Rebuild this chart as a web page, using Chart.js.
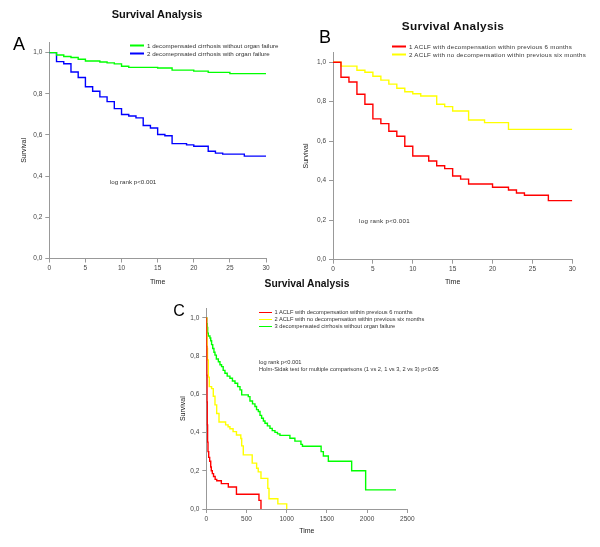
<!DOCTYPE html>
<html lang="en">
<head>
<meta charset="UTF-8">
<title>Survival Analysis</title>
<script src="https://cdn.jsdelivr.net/npm/chart.js"></script>
<style>
  body { margin: 0; background: #fff; font-family: "Liberation Sans", Arial, sans-serif; }
  #wrap { position: relative; width: 600px; height: 547px; overflow: hidden; }
  canvas { position: absolute; }
  .txt { position: absolute; white-space: nowrap; color: #222; }
  .center { transform: translate(-50%, -50%); }
  .title { font-weight: bold; color: #111; }
  .letter { color: #000; }
  .leg { position: absolute; white-space: nowrap; font-size: 6.2px; color: #333; transform: translateY(-50%); }
  .leg i { display: inline-block; width: 14px; height: 1.5px; vertical-align: middle; margin-right: 3px; }
  .note { font-size: 6.2px; color: #333; transform: translateY(-50%); }
  .small { font-size: 5.7px; }
</style>
</head>
<body>
<div id="wrap">
  <canvas id="chartA" width="300" height="292" style="left:0;top:0"></canvas>
  <canvas id="chartB" width="300" height="292" style="left:300px;top:0"></canvas>
  <canvas id="chartC" width="260" height="252" style="left:170px;top:295px"></canvas>

  <div class="txt center title" style="left:157px;top:14px;font-size:11px">Survival Analysis</div>
  <div class="txt center title" style="left:453px;top:26px;font-size:11.8px;letter-spacing:0.3px">Survival Analysis</div>
  <div class="txt center title" style="left:307px;top:283px;font-size:10.3px">Survival Analysis</div>

  <div class="txt center letter" style="left:19px;top:44px;font-size:18px">A</div>
  <div class="txt center letter" style="left:325px;top:37px;font-size:18px">B</div>
  <div class="txt center letter" style="left:179px;top:311px;font-size:16px">C</div>

  <div class="leg" style="left:130px;top:44.5px"><i style="background:#00ff00"></i>1 decompensated cirrhosis without organ failure</div>
  <div class="leg" style="left:130px;top:52.5px"><i style="background:#0000ff"></i>2 decomepnsated cirrhosis with organ failure</div>

  <div class="leg" style="left:392px;top:45.5px;letter-spacing:0.25px"><i style="background:#ff0000"></i>1 ACLF with decompensation within previous 6 months</div>
  <div class="leg" style="left:392px;top:53.5px;letter-spacing:0.25px"><i style="background:#ffff00"></i>2 ACLF with no decompensation within previous six months</div>

  <div class="leg small" style="left:259px;top:312px"><i style="background:#ff0000;width:12.5px"></i>1 ACLF with decompensation within previous 6 months</div>
  <div class="leg small" style="left:259px;top:319px"><i style="background:#ffff00;width:12.5px"></i>2 ACLF with no decompensation within previous six months</div>
  <div class="leg small" style="left:259px;top:326px"><i style="background:#00ff00;width:12.5px"></i>3 decompensated cirrhosis without organ failure</div>

  <div class="txt note" style="left:110px;top:181px">log rank p&lt;0.001</div>
  <div class="txt note" style="left:359px;top:220px;letter-spacing:0.3px">log rank p&lt;0.001</div>
  <div class="txt note small" style="left:259px;top:362px">log rank p&lt;0.001</div>
  <div class="txt note small" style="left:259px;top:369px">Holm-Sidak test for multiple comparisons (1 vs 2, 1 vs 3, 2 vs 3) p&lt;0.05</div>
</div>
<script>
  // panel A: decompensated cirrhosis without / with organ failure
  const aGreenTime = [0, 1, 2, 3, 4, 5, 7, 8, 9, 10, 11, 15, 17, 20, 22, 25, 30];
  const aGreenSurv = [1, 0.988, 0.981, 0.976, 0.968, 0.959, 0.954, 0.95, 0.945, 0.934, 0.928, 0.925, 0.915, 0.91, 0.904, 0.898, 0.898];
  const aBlueTime = [0, 1, 2, 3, 4, 5, 6, 7, 8, 9, 10, 11, 12, 13, 14, 15, 16, 17, 19, 20, 22, 23, 24, 27, 30];
  const aBlueSurv = [1, 0.956, 0.946, 0.906, 0.879, 0.834, 0.812, 0.785, 0.762, 0.728, 0.699, 0.692, 0.683, 0.646, 0.634, 0.602, 0.596, 0.558, 0.552, 0.545, 0.521, 0.512, 0.507, 0.497, 0.497];

  // panel B: ACLF with / without previous decompensation
  const bRedTime = [0, 1, 2, 3, 4, 5, 6, 7, 8, 9, 10, 12, 13, 14, 15, 16, 17, 20, 22, 23, 24, 27, 30];
  const bRedSurv = [1, 0.924, 0.9, 0.838, 0.787, 0.713, 0.689, 0.65, 0.625, 0.574, 0.525, 0.5, 0.476, 0.461, 0.424, 0.408, 0.383, 0.367, 0.353, 0.338, 0.326, 0.299, 0.299];
  const bYellowTime = [0, 1, 3, 4, 5, 6, 7, 8, 9, 10, 11, 13, 14, 15, 17, 19, 22, 30];
  const bYellowSurv = [1, 0.98, 0.959, 0.949, 0.929, 0.909, 0.889, 0.868, 0.85, 0.84, 0.829, 0.787, 0.775, 0.753, 0.707, 0.694, 0.66, 0.66];

  // panel C: all three groups, long follow-up
  const cRedTime = [0, 3, 6, 9, 12, 16, 21, 30, 42, 55, 62, 75, 90, 110, 130, 187, 274, 375, 655, 680];
  const cRedSurv = [1, 0.85, 0.7, 0.56, 0.44, 0.35, 0.3, 0.27, 0.25, 0.22, 0.2, 0.185, 0.17, 0.155, 0.148, 0.133, 0.115, 0.077, 0.045, 0];
  const cYellowTime = [0, 3, 6, 10, 15, 25, 37, 66, 87, 108, 129, 158, 240, 271, 294, 333, 375, 429, 440, 460, 571, 626, 646, 680, 765, 780, 890, 1000];
  const cYellowSurv = [1, 0.95, 0.9, 0.84, 0.78, 0.69, 0.64, 0.63, 0.59, 0.545, 0.5, 0.455, 0.44, 0.43, 0.42, 0.405, 0.387, 0.369, 0.33, 0.283, 0.24, 0.213, 0.194, 0.16, 0.108, 0.054, 0.027, 0];
  const cGreenTime = [0, 5, 10, 17, 25, 45, 55, 66, 80, 95, 108, 125, 150, 170, 190, 210, 232, 260, 294, 325, 357, 390, 419, 440, 522, 543, 575, 605, 625, 647, 668, 688, 710, 730, 760, 792, 820, 854, 885, 916, 1040, 1102, 1177, 1196, 1428, 1456, 1518, 1808, 1982, 2360];
  const cGreenSurv = [1, 0.97, 0.95, 0.92, 0.905, 0.895, 0.88, 0.86, 0.84, 0.82, 0.805, 0.785, 0.77, 0.755, 0.745, 0.725, 0.71, 0.695, 0.684, 0.67, 0.658, 0.64, 0.623, 0.597, 0.588, 0.565, 0.55, 0.536, 0.52, 0.51, 0.49, 0.475, 0.46, 0.449, 0.435, 0.422, 0.41, 0.401, 0.393, 0.385, 0.37, 0.355, 0.338, 0.328, 0.3, 0.277, 0.25, 0.2, 0.1, 0.1];

  const yTicks = [0, 0.2, 0.4, 0.6, 0.8, 1.0];
  const axisColor = "#999";
  const tickFont = { family: "'Liberation Sans', Arial, sans-serif", size: 6.5 };
  const titleFont = { family: "'Liberation Sans', Arial, sans-serif", size: 7 };

  function toPoints(times, surv) {
    return times.map((t, i) => ({ x: t, y: surv[i] }));
  }

  function kmSet(times, surv, color) {
    return {
      data: toPoints(times, surv),
      borderColor: color,
      borderWidth: 1.4,
      pointRadius: 0,
      stepped: true,
      fill: false
    };
  }

  function makeChart(id, datasets, p) {
    const ctx = document.getElementById(id).getContext("2d");
    return new Chart(ctx, {
      type: "line",
      data: { datasets: datasets },
      options: {
        responsive: false,
        animation: false,
        layout: { padding: { left: 0, right: p.right, top: p.top, bottom: 0 } },
        plugins: { legend: { display: false }, tooltip: { enabled: false } },
        scales: {
          x: {
            type: "linear",
            min: 0,
            max: p.xMax,
            afterFit: (s) => { s.height = p.xHeight; },
            ticks: { stepSize: p.xStep, color: "#444", font: tickFont, padding: 2, maxRotation: 0, callback: (v) => String(v) },
            grid: { drawOnChartArea: false, drawTicks: true, tickLength: 4, color: axisColor },
            border: { display: true, color: axisColor },
            title: { display: true, text: "Time", color: "#222", font: titleFont, padding: { top: 0, bottom: p.timePad } }
          },
          y: {
            min: 0,
            max: 1.05,
            afterFit: (s) => { s.width = p.yWidth; },
            afterBuildTicks: (s) => { s.ticks = yTicks.map((v) => ({ value: v })); },
            ticks: { color: "#444", font: tickFont, padding: 3, callback: (v) => v.toFixed(1).replace(".", ",") },
            grid: { drawOnChartArea: false, drawTicks: true, tickLength: 4, color: axisColor },
            border: { display: true, color: axisColor },
            title: { display: true, text: "Survival", color: "#222", font: titleFont, padding: { top: p.survPad, bottom: 0 } }
          }
        }
      }
    });
  }

  makeChart("chartA", [
    kmSet(aGreenTime, aGreenSurv, "#00ff00"),
    kmSet(aBlueTime, aBlueSurv, "#0000ff")
  ], { xMax: 30, xStep: 5, right: 34, top: 42.3, yWidth: 49.3, xHeight: 33.5, timePad: 5.5, survPad: 20 });

  makeChart("chartB", [
    kmSet(bRedTime, bRedSurv, "#ff0000"),
    kmSet(bYellowTime, bYellowSurv, "#ffff00")
  ], { xMax: 30, xStep: 5, right: 27.7, top: 52.3, yWidth: 33, xHeight: 32.3, timePad: 5.8, survPad: 1.8 });

  makeChart("chartC", [
    kmSet(cRedTime, cRedSurv, "#ff0000"),
    kmSet(cYellowTime, cYellowSurv, "#ffff00"),
    kmSet(cGreenTime, cGreenSurv, "#00ff00")
  ], { xMax: 2500, xStep: 500, right: 22.7, top: 13.3, yWidth: 36.3, xHeight: 38, timePad: 11.8, survPad: 8.8 });
</script>
</body>
</html>
